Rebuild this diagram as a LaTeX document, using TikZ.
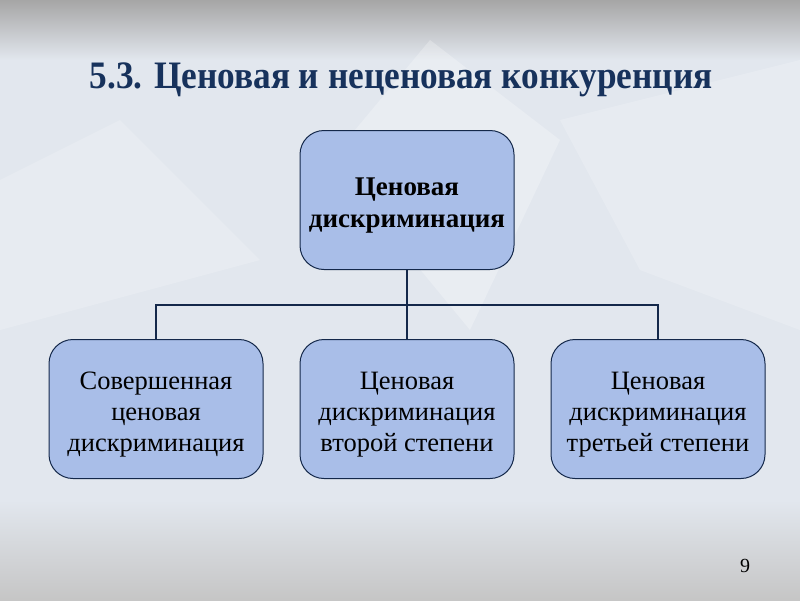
\documentclass[tikz,border=0pt]{standalone}
\usepackage{fontspec}
\setmainfont{Liberation Serif}
\usetikzlibrary{positioning, calc}
\definecolor{boxfill}{HTML}{A9BEE8}
\definecolor{navy}{HTML}{14284A}
\definecolor{titleblue}{HTML}{17325C}
\definecolor{frost}{HTML}{E2E7EE}
\tikzset{
    x=1pt, y=-1pt,
    box/.style={ % common look of all boxes
        draw=navy,
        line width=1pt,
        fill=boxfill,
        rounded corners=24pt,
        minimum width=214pt,
        minimum height=139pt,
        align=center,
        text=black
    },
    % text height a bit over the natural one pushes the lines down
    headbox/.style={box, text height=60pt, font=\bfseries\fontsize{27}{32}\selectfont},
    subbox/.style={box, text height=90pt, font=\fontsize{26.5}{31}\selectfont},
    link/.style={draw=navy, line width=1.6pt}
}
\begin{document}
\begin{tikzpicture}
            % background
            \useasboundingbox (0,0) rectangle (800,600);
            \shade[top color=gray!70, bottom color=frost] (0,0) rectangle (800,60);
            \fill[frost] (0,60) rectangle (800,500);
            \shade[top color=frost, bottom color=gray!45] (0,500) rectangle (800,600);
            \fill[white, opacity=0.25] (430,40) -- (560,140) -- (470,330) -- (330,160) -- cycle;
            \fill[white, opacity=0.2] (560,120) -- (800,60) -- (800,330) -- (640,270) -- cycle;
            \fill[white, opacity=0.2] (0,180) -- (120,120) -- (260,260) -- (0,330) -- cycle;
            % title
            \node[font=\bfseries\fontsize{36}{40}\selectfont, text=titleblue, xscale=0.98, yscale=1.08] (title) at (401,80) {5.3. Ценовая и неценовая конкуренция};
            % boxes
            \node[headbox]                  (head)   at (407,200) {Ценовая\\дискриминация};
            \node[subbox]                   (first)  at (156,409) {Совершенная\\ценовая\\дискриминация};
            \node[subbox]                   (second) at (407,409) {Ценовая\\дискриминация\\второй степени};
            \node[subbox]                   (third)  at (658,409) {Ценовая\\дискриминация\\третьей степени};
            \coordinate (fork) at ($(head.south)+(0,35)$);
            \draw[link] (head.south) -- (fork)
                        (second.north) -- (fork)
                        (fork) -| (first.north)
                        (fork) -| (third.north);
            % page number
            \node[font=\fontsize{20}{24}\selectfont] (page) at (745,566) {9};
\end{tikzpicture}
\end{document}
